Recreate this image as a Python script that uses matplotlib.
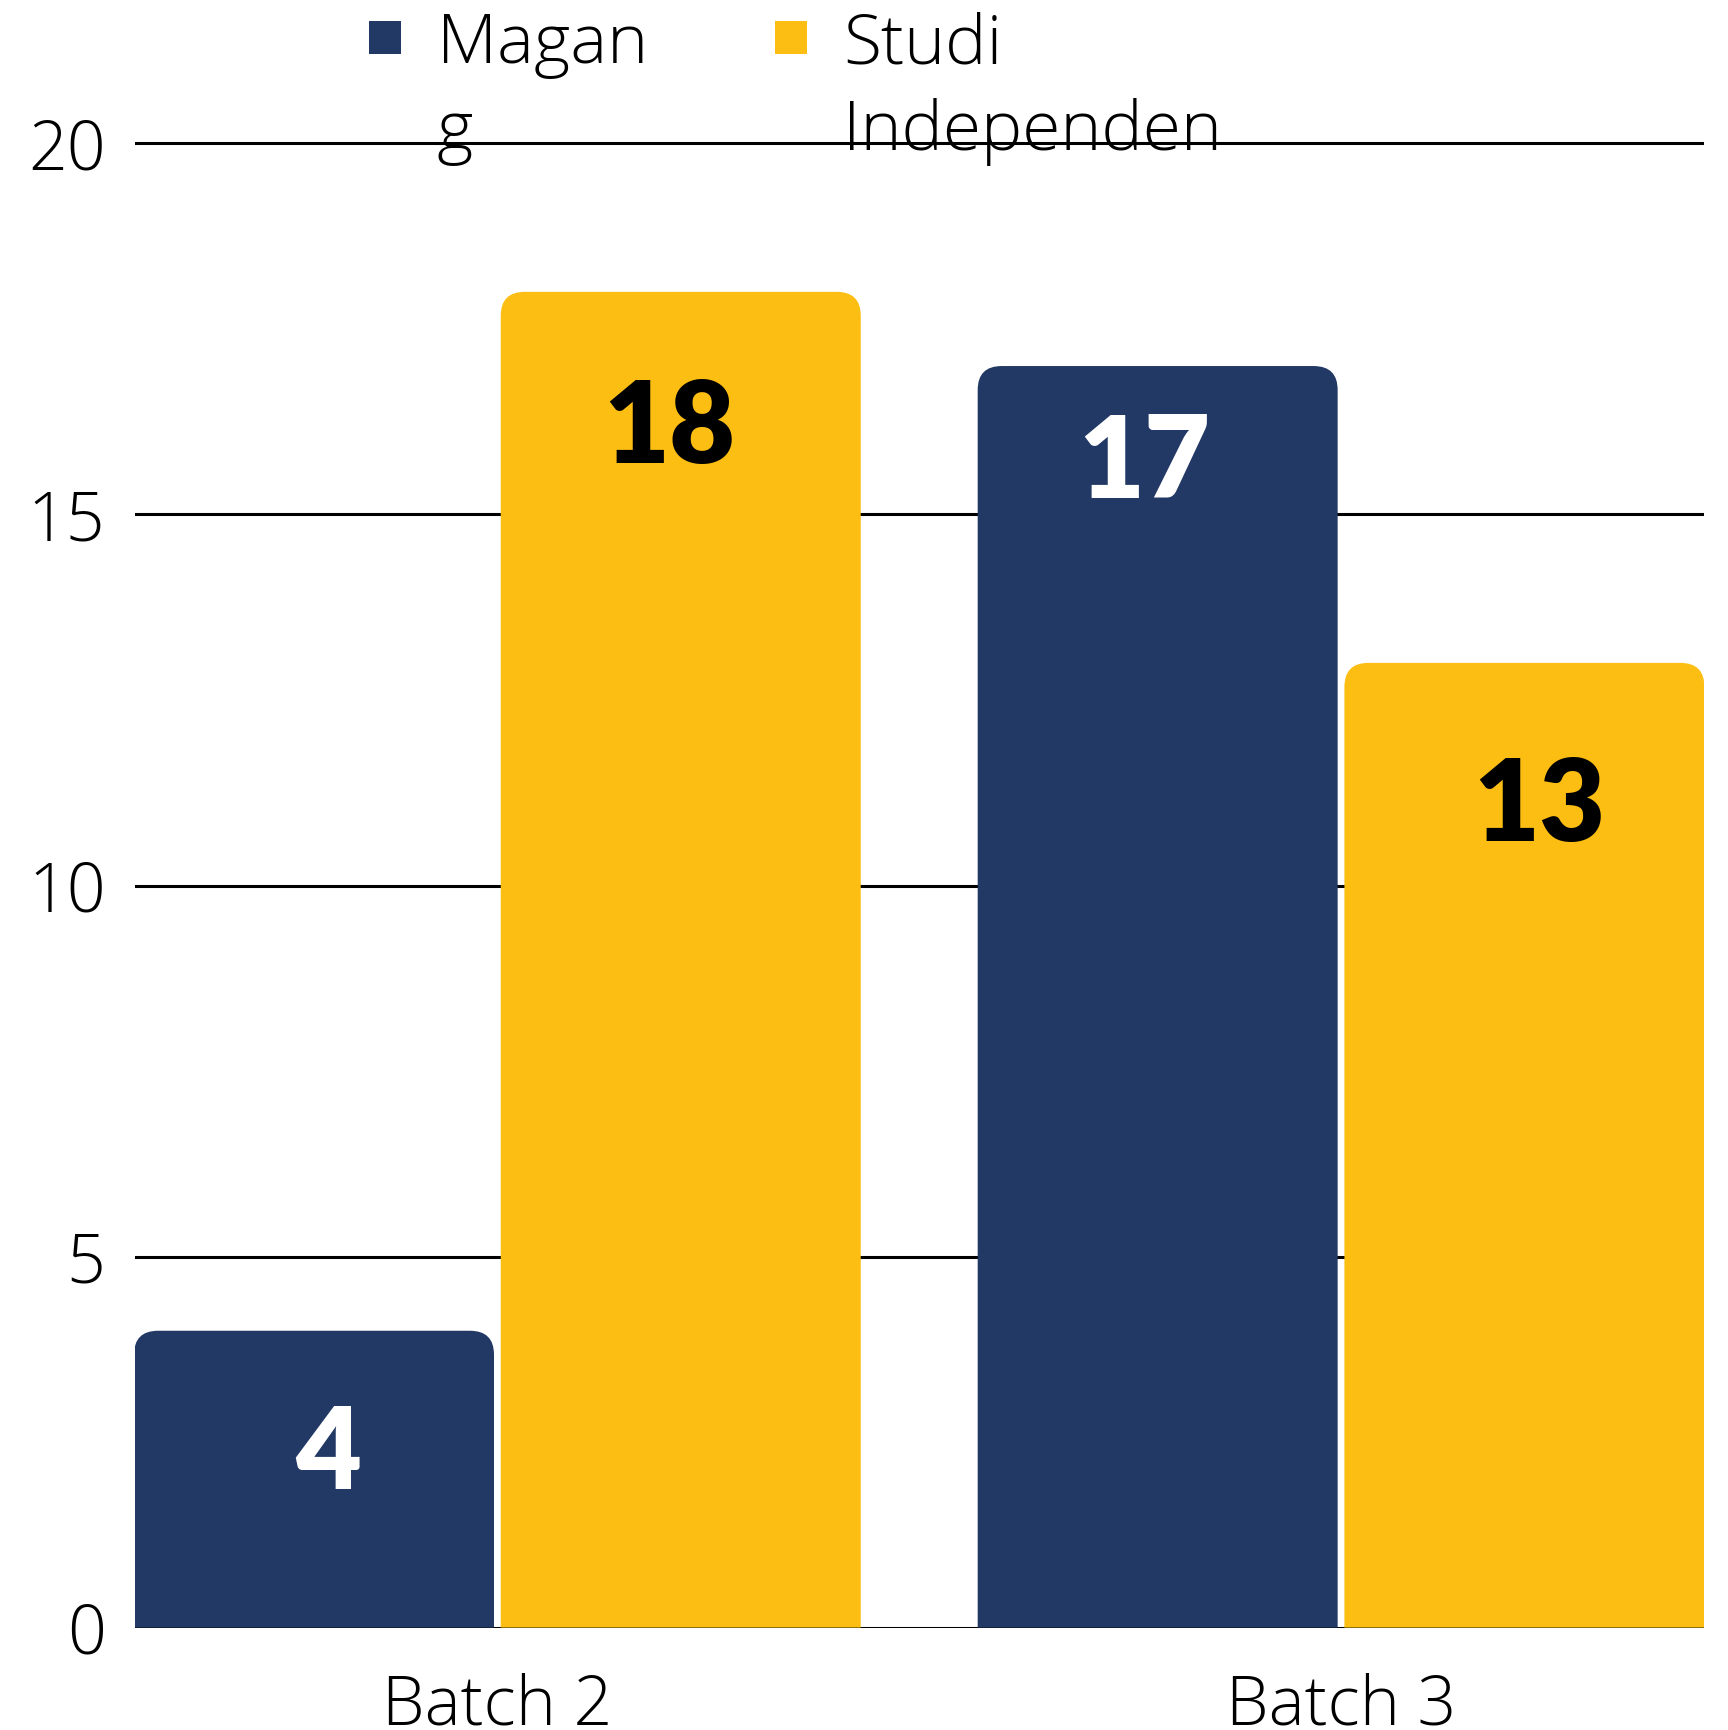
import matplotlib.pyplot as plt
from matplotlib.path import Path
from matplotlib.patches import PathPatch, Rectangle

# data
batches = ["Batch 2", "Batch 3"]
magang = [4, 17]
studi = [18, 13]
series_names = ["Magan\ng", "Studi\nIndependen"]
yticks = [0, 5, 10, 15, 20]

navy = "#223965"
yellow = "#FCBE12"

plt.rcParams['font.family'] = ['Open Sans', 'DejaVu Sans']

fig = plt.figure(figsize=(17.28, 17.30), dpi=100)
bottom, top20 = 0.0592, 0.9171
ymax = 20.1
top = bottom + (top20 - bottom) * ymax / 20
ax = fig.add_axes([0.0779, bottom, 0.986 - 0.0779, top - bottom])


def rounded_bar(ax, x, w, h, color, rx=0.0285, ry=0.323):
    x0, x1 = x - w / 2, x + w / 2
    verts = [(x0, 0), (x0, h - ry), (x0, h), (x0 + rx, h),
             (x1 - rx, h), (x1, h), (x1, h - ry), (x1, 0), (x0, 0)]
    codes = [Path.MOVETO, Path.LINETO, Path.CURVE3, Path.CURVE3,
             Path.LINETO, Path.CURVE3, Path.CURVE3, Path.LINETO, Path.CLOSEPOLY]
    ax.add_patch(PathPatch(Path(verts, codes), facecolor=color,
                           edgecolor='none', zorder=3))


width = 0.4267
off = width / 2 + 0.004
# label placement nudges (layout only)
label_drop = [[1.69, 1.33], [1.86, 1.96]]
label_dx = [[0.017, -0.016], [-0.014, 0.018]]
value_font = ['Lato', 'DejaVu Sans']

for i in range(len(batches)):
    rounded_bar(ax, i - off, width, magang[i], navy)
    rounded_bar(ax, i + off, width, studi[i], yellow)
    ax.text(i - off + label_dx[0][i], magang[i] - label_drop[0][i], str(magang[i]),
            ha='center', va='center', color='white', fontsize=82,
            fontweight='heavy', family=value_font, zorder=4)
    ax.text(i + off + label_dx[1][i], studi[i] - label_drop[1][i],
            str(studi[i]), ha='center', va='center', color='black',
            fontsize=82, fontweight='heavy', family=value_font, zorder=4)

ax.set_xlim(-0.43, 1.43)
ax.set_ylim(0, ymax)
ax.set_yticks(yticks)
ax.set_xticks(range(len(batches)))
ax.set_xticklabels(batches)
ax.yaxis.grid(True, color='black', linewidth=2.2, zorder=1)
ax.set_axisbelow(True)
for s in ax.spines.values():
    s.set_visible(False)
ax.tick_params(axis='both', length=0, labelsize=49, colors='black')
ax.tick_params(axis='y', pad=21)
ax.tick_params(axis='x', pad=32)
for lab in ax.get_xticklabels() + ax.get_yticklabels():
    lab.set_fontweight('light')

# legend drawn by hand so the wrapped labels sit like the original
leg_x = [0.2228, 0.4578]
leg_colors = [navy, yellow]
for lx, col, name in zip(leg_x, leg_colors, series_names):
    fig.patches.append(Rectangle((lx - 0.0093, 1 - 0.0310), 0.0186, 0.0186,
                                 transform=fig.transFigure, facecolor=col,
                                 edgecolor='none'))
    fig.text(lx + 0.030, 1 - 0.0065, name, ha='left', va='top', fontsize=50,
             fontweight='light', linespacing=1.36, color='black')

fig.savefig("out.png", dpi=100)
